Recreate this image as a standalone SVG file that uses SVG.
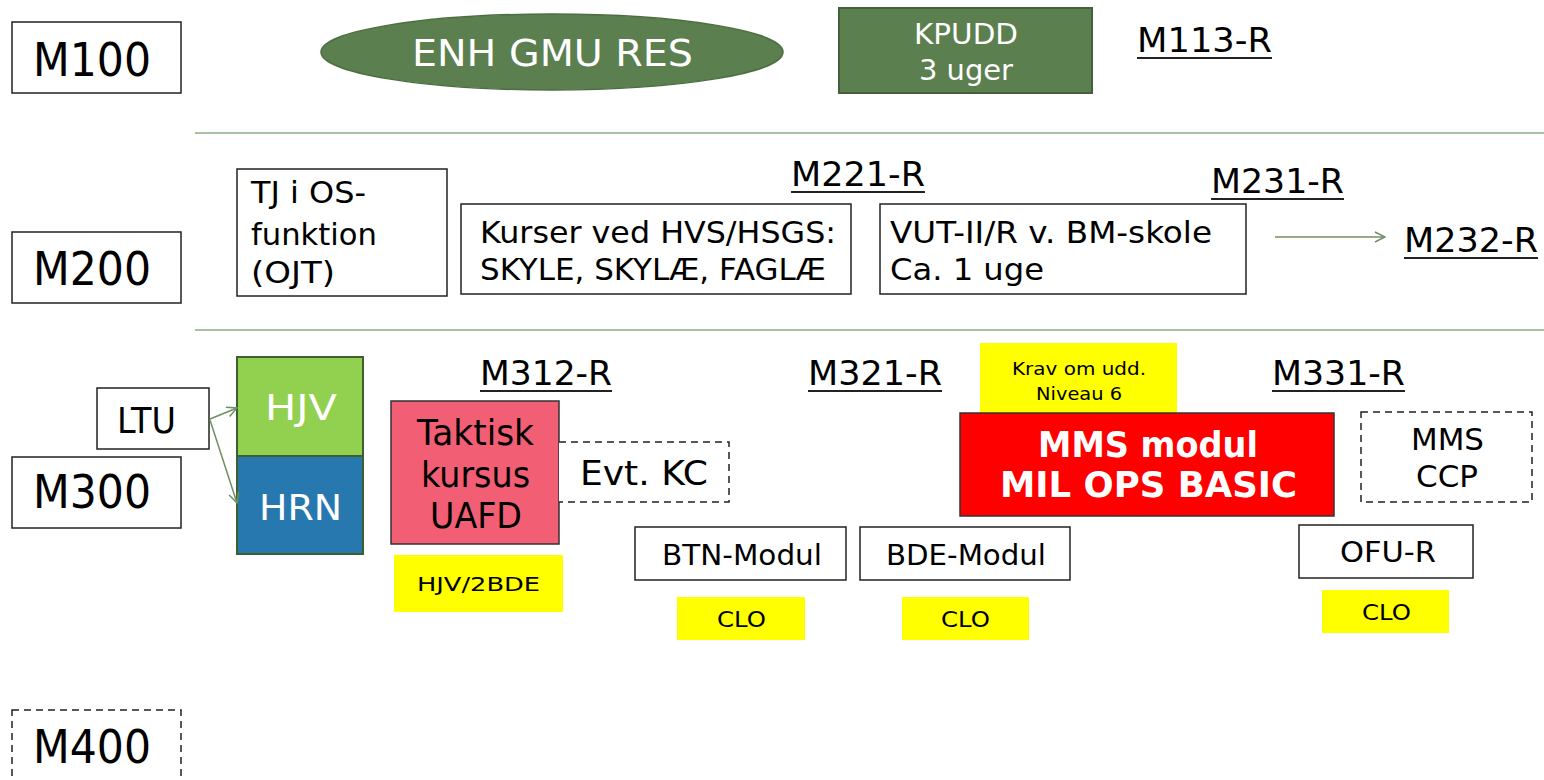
<svg xmlns="http://www.w3.org/2000/svg" width="1544" height="780" viewBox="0 0 1544 780">
<style>
text{font-family:"DejaVu Sans","Verdana",sans-serif;fill:#000}
.box{fill:#fff;stroke:#222;stroke-width:1.5}
.dash{fill:#fff;stroke:#222;stroke-width:1.5;stroke-dasharray:7 5}
.yel{fill:#ffff00;stroke:none}
.lvl{font-size:46px}
.lab{font-size:34px}
.ul{stroke:#222;stroke-width:2}
.w{fill:#fff}
.sep{stroke:#8fab84;stroke-width:1.5}
.conn{stroke:#6e8f62;stroke-width:1.5;fill:none}
</style>
<defs>
<marker id="ah" viewBox="0 0 12 12" refX="11" refY="6" markerWidth="12" markerHeight="12" markerUnits="userSpaceOnUse" orient="auto">
<path d="M1,1 L11,6 L1,11" fill="none" stroke="#6e8f62" stroke-width="1.5"/>
</marker>
</defs>
<rect width="1544" height="780" fill="#fff"/>
<g id="separators">
<line class="sep" x1="195" y1="133" x2="1544" y2="133"/>
<line class="sep" x1="195" y1="330" x2="1544" y2="330"/>
</g>
<g id="m100"><rect class="box" x="12" y="22" width="169" height="71"/><text class="lvl" x="33" y="76" textLength="118" lengthAdjust="spacingAndGlyphs">M100</text></g>
<g id="m200"><rect class="box" x="12" y="232" width="169" height="71"/><text class="lvl" x="33" y="285" textLength="118" lengthAdjust="spacingAndGlyphs">M200</text></g>
<g id="m300"><rect class="box" x="12" y="457" width="169" height="71"/><text class="lvl" x="33" y="508" textLength="118" lengthAdjust="spacingAndGlyphs">M300</text></g>
<g id="m400"><rect class="dash" x="12" y="710" width="169" height="80"/><text class="lvl" x="33" y="763" textLength="118" lengthAdjust="spacingAndGlyphs">M400</text></g>
<g id="enh"><ellipse cx="552" cy="52" rx="231" ry="38" fill="#5b7f4f" stroke="#4d6e42" stroke-width="1.5"/><text class="w" x="412" y="66" font-size="38" textLength="281" lengthAdjust="spacingAndGlyphs">ENH GMU RES</text></g>
<g id="kpudd"><rect x="839" y="8" width="253" height="85" fill="#5b7f4f" stroke="#44603a" stroke-width="2"/>
<text class="w" x="914" y="44" font-size="28" textLength="104" lengthAdjust="spacingAndGlyphs">KPUDD</text>
<text class="w" x="919" y="80" font-size="28" textLength="94" lengthAdjust="spacingAndGlyphs">3 uger</text></g>
<g id="m113"><text class="lab" x="1137" y="52" textLength="135" lengthAdjust="spacingAndGlyphs">M113-R</text><line class="ul" x1="1137" y1="58" x2="1272" y2="58"/></g>
<g id="tj"><rect class="box" x="237" y="169" width="210" height="127"/>
<text x="251" y="203" font-size="30" textLength="115" lengthAdjust="spacingAndGlyphs">TJ i OS-</text>
<text x="251" y="245" font-size="30" textLength="126" lengthAdjust="spacingAndGlyphs">funktion</text>
<text x="251" y="283" font-size="30" textLength="84" lengthAdjust="spacingAndGlyphs">(OJT)</text></g>
<g id="kurser"><rect class="box" x="461" y="204" width="390" height="90"/>
<text x="480" y="243" font-size="30" textLength="356" lengthAdjust="spacingAndGlyphs">Kurser ved HVS/HSGS:</text>
<text x="480" y="280" font-size="30" textLength="346" lengthAdjust="spacingAndGlyphs">SKYLE, SKYLÆ, FAGLÆ</text></g>
<g id="m221"><text class="lab" x="791" y="186" textLength="134" lengthAdjust="spacingAndGlyphs">M221-R</text><line class="ul" x1="791" y1="192" x2="925" y2="192"/></g>
<g id="m231"><text class="lab" x="1211" y="193" textLength="133" lengthAdjust="spacingAndGlyphs">M231-R</text><line class="ul" x1="1211" y1="199" x2="1344" y2="199"/></g>
<g id="vut"><rect class="box" x="880" y="204" width="366" height="90"/>
<text x="890" y="243" font-size="30" textLength="322" lengthAdjust="spacingAndGlyphs">VUT-II/R v. BM-skole</text>
<text x="890" y="280" font-size="30" textLength="154" lengthAdjust="spacingAndGlyphs">Ca. 1 uge</text></g>
<g id="m232"><text class="lab" x="1404" y="252" textLength="134" lengthAdjust="spacingAndGlyphs">M232-R</text><line class="ul" x1="1404" y1="258" x2="1538" y2="258"/></g>
<g id="ltu"><rect class="box" x="97" y="388" width="112" height="61"/><text x="117" y="433" font-size="36" textLength="59" lengthAdjust="spacingAndGlyphs">LTU</text></g>
<g id="hjv"><rect x="237" y="357" width="126" height="99" fill="#92d050" stroke="#3f5f2f" stroke-width="2"/><text class="w" x="265" y="420" font-size="36" textLength="72" lengthAdjust="spacingAndGlyphs">HJV</text></g>
<g id="hrn"><rect x="237" y="456" width="126" height="98" fill="#2878b0" stroke="#3f5f2f" stroke-width="2"/><text class="w" x="259" y="520" font-size="36" textLength="83" lengthAdjust="spacingAndGlyphs">HRN</text></g>
<g id="m312"><text class="lab" x="480" y="385" textLength="132" lengthAdjust="spacingAndGlyphs">M312-R</text><line class="ul" x1="480" y1="391" x2="612" y2="391"/></g>
<g id="taktisk"><rect x="391" y="401" width="168" height="143" fill="#f25e74" stroke="#333" stroke-width="1.5"/>
<text x="417" y="445" font-size="36" textLength="117" lengthAdjust="spacingAndGlyphs">Taktisk</text>
<text x="421" y="487" font-size="36" textLength="109" lengthAdjust="spacingAndGlyphs">kursus</text>
<text x="430" y="528" font-size="36" textLength="92" lengthAdjust="spacingAndGlyphs">UAFD</text></g>
<g id="evtkc"><path class="dash" d="M559,442 H729 V502 H559"/><text x="580" y="485" font-size="34" textLength="128" lengthAdjust="spacingAndGlyphs">Evt. KC</text></g>
<g id="hjv2bde"><rect class="yel" x="394" y="555" width="169" height="57"/><text x="417" y="591" font-size="20" textLength="123" lengthAdjust="spacingAndGlyphs">HJV/2BDE</text></g>
<g id="btn"><rect class="box" x="635" y="527" width="211" height="53"/><text x="662" y="565" font-size="28" textLength="160" lengthAdjust="spacingAndGlyphs">BTN-Modul</text></g>
<g id="clo1"><rect class="yel" x="677" y="597" width="128" height="43"/><text x="717" y="627" font-size="22" textLength="49" lengthAdjust="spacingAndGlyphs">CLO</text></g>
<g id="m321"><text class="lab" x="808" y="385" textLength="134" lengthAdjust="spacingAndGlyphs">M321-R</text><line class="ul" x1="808" y1="391" x2="942" y2="391"/></g>
<g id="bde"><rect class="box" x="860" y="527" width="210" height="53"/><text x="886" y="565" font-size="28" textLength="160" lengthAdjust="spacingAndGlyphs">BDE-Modul</text></g>
<g id="clo2"><rect class="yel" x="902" y="597" width="127" height="43"/><text x="941" y="627" font-size="22" textLength="49" lengthAdjust="spacingAndGlyphs">CLO</text></g>
<g id="krav"><rect class="yel" x="980" y="343" width="197" height="70"/>
<text x="1012" y="375" font-size="18" textLength="134" lengthAdjust="spacingAndGlyphs">Krav om udd.</text>
<text x="1036" y="400" font-size="18" textLength="86" lengthAdjust="spacingAndGlyphs">Niveau 6</text></g>
<g id="mms"><rect x="960" y="413" width="374" height="103" fill="#ff0000" stroke="#333" stroke-width="1.5"/>
<text class="w" x="1038" y="457" font-size="36" font-weight="bold" textLength="220" lengthAdjust="spacingAndGlyphs">MMS modul</text>
<text class="w" x="1000" y="497" font-size="36" font-weight="bold" textLength="297" lengthAdjust="spacingAndGlyphs">MIL OPS BASIC</text></g>
<g id="m331"><text class="lab" x="1272" y="385" textLength="133" lengthAdjust="spacingAndGlyphs">M331-R</text><line class="ul" x1="1272" y1="391" x2="1405" y2="391"/></g>
<g id="mmsccp"><rect class="dash" x="1361" y="412" width="171" height="90"/>
<text x="1411" y="450" font-size="30" textLength="73" lengthAdjust="spacingAndGlyphs">MMS</text>
<text x="1416" y="487" font-size="30" textLength="62" lengthAdjust="spacingAndGlyphs">CCP</text></g>
<g id="ofu"><rect class="box" x="1299" y="525" width="174" height="53"/><text x="1340" y="562" font-size="28" textLength="96" lengthAdjust="spacingAndGlyphs">OFU-R</text></g>
<g id="clo3"><rect class="yel" x="1322" y="590" width="127" height="43"/><text x="1362" y="620" font-size="22" textLength="49" lengthAdjust="spacingAndGlyphs">CLO</text></g>
<g id="connectors">
<line class="conn" x1="1275" y1="237" x2="1385" y2="237" marker-end="url(#ah)"/>
<line class="conn" x1="210" y1="419" x2="237" y2="408" marker-end="url(#ah)"/>
<line class="conn" x1="210" y1="420" x2="237" y2="503" marker-end="url(#ah)"/>
</g>
</svg>
